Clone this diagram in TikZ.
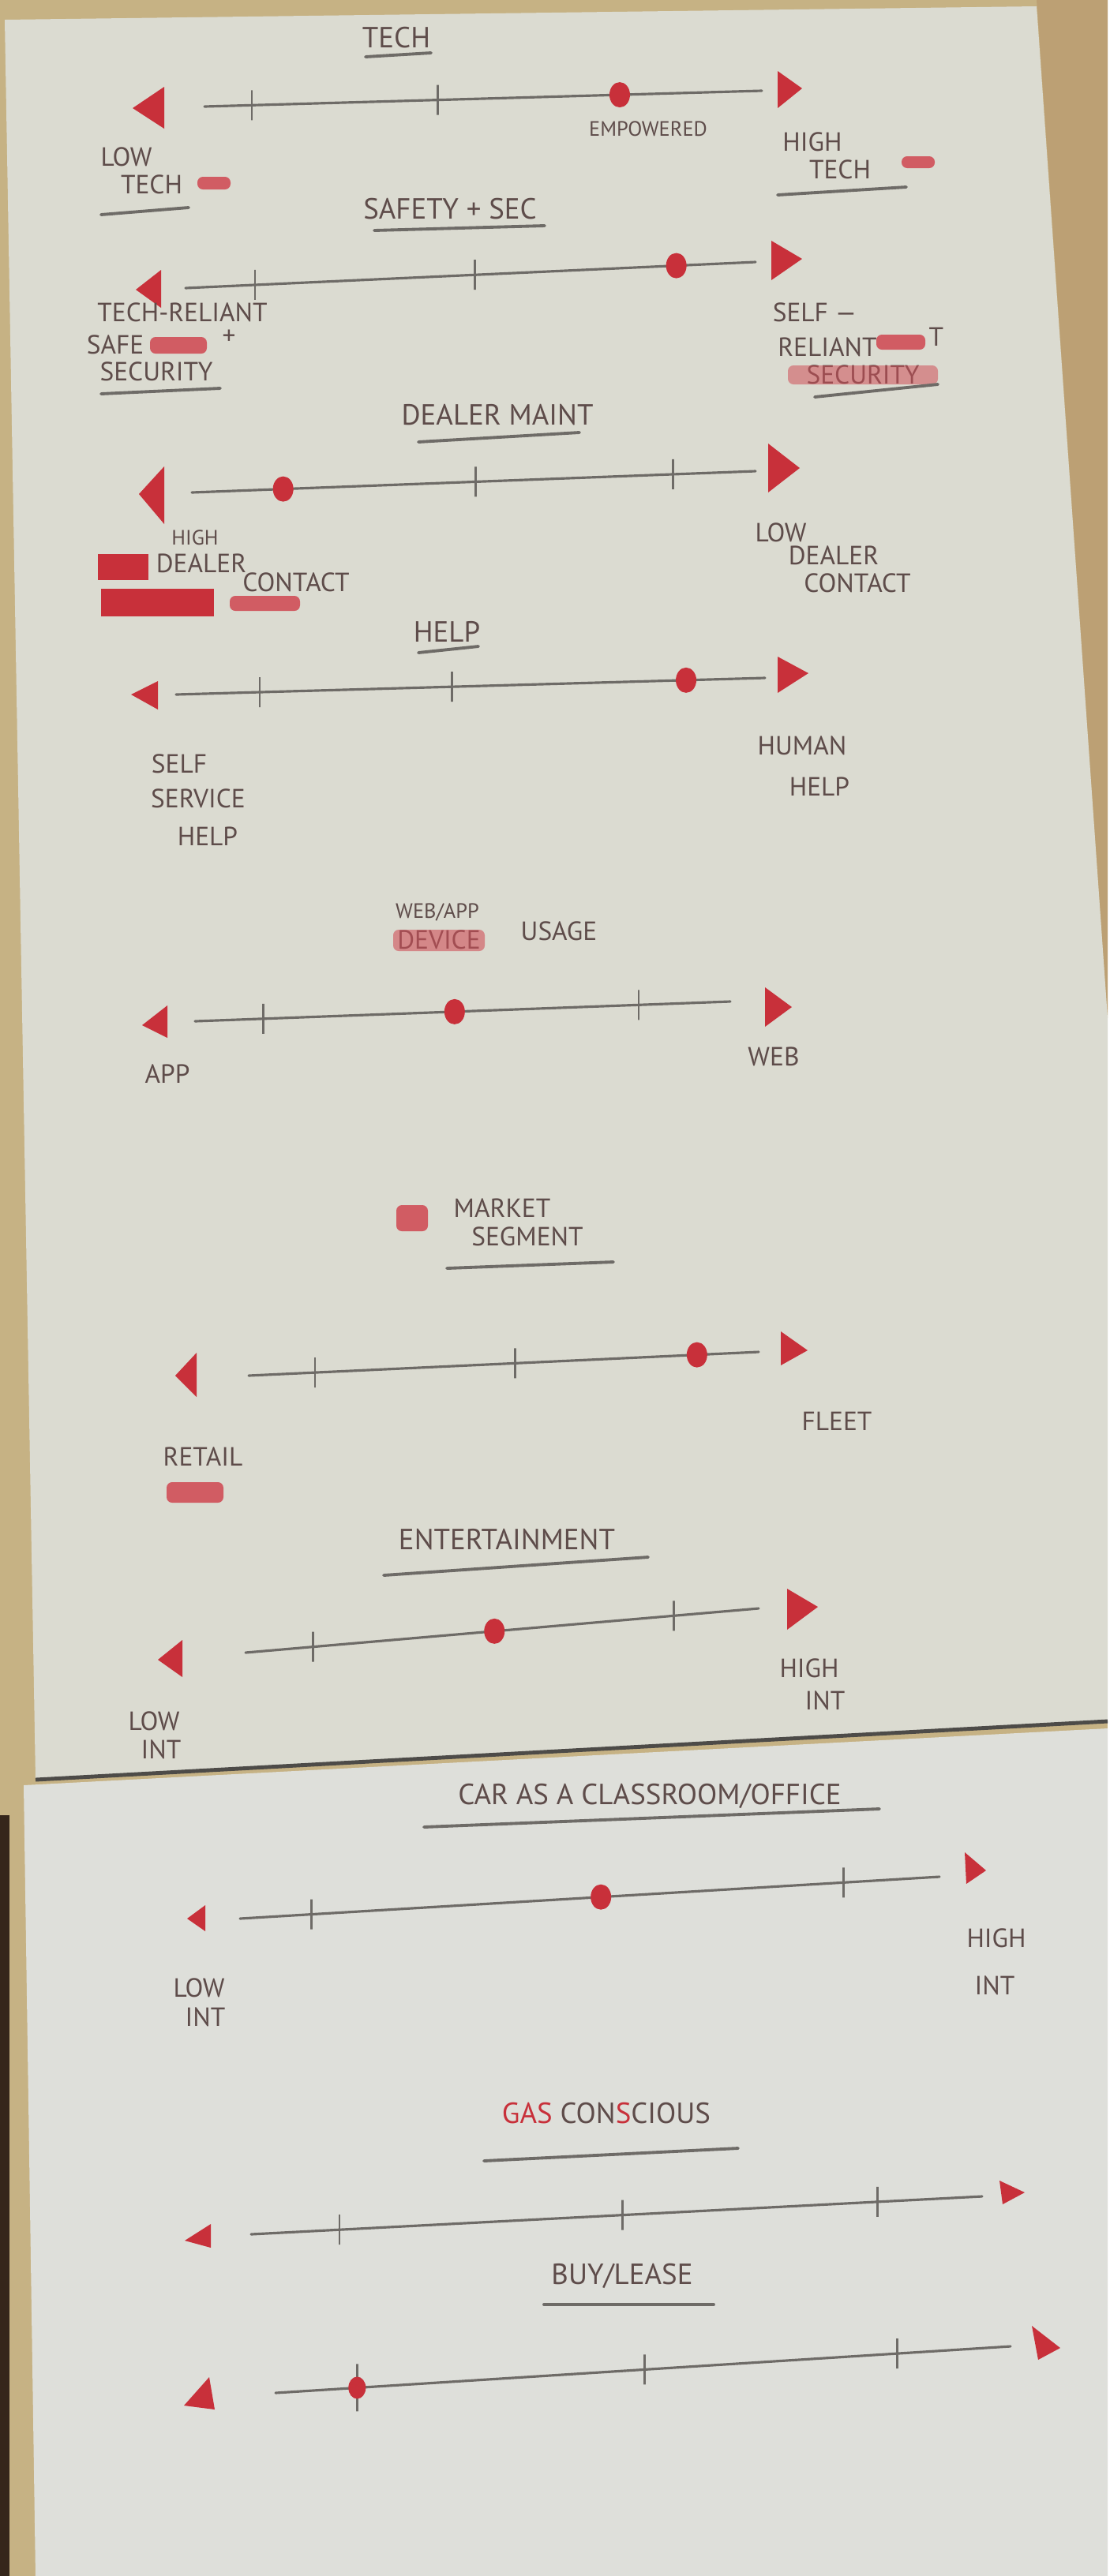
\documentclass[tikz,border=0pt]{standalone}
\usepackage{fontspec}
\setmainfont{PT Sans}
\usetikzlibrary{shapes.geometric}

\definecolor{paper}{HTML}{DBDBD1}
\definecolor{paperlow}{HTML}{DEDFDA}
\definecolor{wall}{HTML}{C6B284}
\definecolor{wallside}{HTML}{BCA074}
\definecolor{woodedge}{HTML}{35261B}
\definecolor{marker}{HTML}{C8303A}
\definecolor{inkc}{HTML}{5E4C4A}
\definecolor{pencilc}{HTML}{6E6B67}

\begin{document}
\begin{tikzpicture}[x=0.1mm,y=-0.1mm,
  lbl/.style={text=inkc, inner sep=0pt, font=\fontsize{9.5}{11}\selectfont},
  ttl/.style={lbl, font=\fontsize{10.5}{12}\selectfont},
  tiny/.style={lbl, font=\fontsize{7.5}{9}\selectfont},
  pencil/.style={draw=pencilc, line width=0.9pt, line cap=round},
  uline/.style={draw=pencilc, line width=1.1pt, line cap=round},
  tickmark/.style={draw=pencilc, line width=0.8pt, inner sep=0pt, minimum width=0pt, minimum height=#1},
  tickmark/.default=3.8mm,
  dot/.style={ellipse, fill=marker, inner sep=0pt, minimum width=2.6mm, minimum height=3.2mm},
  scribble/.style={fill=marker!85, opacity=0.9, rounded corners=2pt},
]
% wall and the two sheets
\fill[wall] (0,0) rectangle (1403,3264);
\fill[wallside] (1313,0) -- (1403,0) -- (1403,1290) -- cycle;
\fill[woodedge] (0,2300) rectangle (12,3264);
\fill[paper] (6,25) -- (1313,8) -- (1403,1290) -- (1403,2179) -- (45,2253) -- cycle;
\fill[paperlow] (30,2262) -- (1403,2190) -- (1403,3264) -- (45,3264) -- cycle;
\draw[pencilc!70!black, line width=1.4pt] (45,2255) -- (1403,2181);

% tech
\node[ttl] (tech-ttl) at (502,48) {TECH};
\draw[uline] (463,72) -- (546,67);
\coordinate (tech-l) at (259,135);
\coordinate (tech-r) at (965,115);
\fill[marker] (168,137) -- (208,110) -- (208,163) -- cycle;
\fill[marker] (985,90) -- (1016,112) -- (985,137) -- cycle;
\draw[pencil] (tech-l) -- (tech-r)
  node[tickmark,pos=.085] (tech-t1) {}
  node[tickmark,pos=.418] (tech-t2) {}
  node[dot,pos=.745] (tech-dot) {};
\node[tiny] (tech-dotlbl) at (821,163) {EMPOWERED};
\node[lbl] (tech-lo1) at (160,199) {LOW};
\node[lbl] (tech-lo2) at (192,234) {TECH};
\fill[scribble] (250,224) rectangle (292,240);
\draw[uline] (128,272) -- (239,263);
\node[lbl] (tech-hi1) at (1029,180) {HIGH};
\node[lbl] (tech-hi2) at (1064,215) {TECH};
\fill[scribble] (1142,198) rectangle (1184,213);
\draw[uline] (985,247) -- (1148,237);

% safety + sec
\node[ttl] (safe-ttl) at (570,265) {SAFETY + SEC};
\draw[uline] (474,292) -- (690,286);
\coordinate (safe-l) at (235,365);
\coordinate (safe-r) at (957,332);
\fill[marker] (172,367) -- (204,342) -- (204,390) -- cycle;
\fill[marker] (977,305) -- (1016,328) -- (977,355) -- cycle;
\draw[pencil] (safe-l) -- (safe-r)
  node[tickmark,pos=.122] (safe-t1) {}
  node[tickmark,pos=.508] (safe-t2) {}
  node[dot,pos=.861] (safe-dot) {};
\node[lbl] (safe-lo1) at (231,396) {TECH-RELIANT};
\node[lbl] (safe-lo2) at (146,437) {SAFE};
\fill[scribble] (190,427) rectangle (262,448);
\node[lbl] (safe-lo3) at (290,427) {+};
\node[lbl] (safe-lo4) at (198,471) {SECURITY};
\draw[uline] (128,499) -- (279,492);
\node[lbl] (safe-hi1) at (1032,396) {SELF —};
\node[lbl] (safe-hi2) at (1048,440) {RELIANT};
\fill[scribble] (1110,424) rectangle (1172,443);
\node[lbl] (safe-hi3) at (1186,427) {T};
\node[lbl] (safe-hi4) at (1093,475) {SECURITY};
\fill[scribble, opacity=.55] (998,463) rectangle (1188,487);
\draw[uline] (1032,503) -- (1188,487);

% dealer maint
\node[ttl] (dealer-ttl) at (630,526) {DEALER MAINT};
\draw[uline] (530,560) -- (734,548);
\coordinate (dealer-l) at (243,624);
\coordinate (dealer-r) at (957,597);
\fill[marker] (176,626) -- (208,591) -- (208,664) -- cycle;
\fill[marker] (973,562) -- (1013,593) -- (973,624) -- cycle;
\draw[pencil] (dealer-l) -- (dealer-r)
  node[dot,pos=.162] (dealer-dot) {}
  node[tickmark,pos=.503] (dealer-t1) {}
  node[tickmark,pos=.854] (dealer-t2) {};
\node[tiny] (dealer-lo1) at (247,681) {HIGH};
\fill[marker] (124,702) rectangle (188,735);
\node[lbl] (dealer-lo2) at (255,714) {DEALER};
\node[lbl] (dealer-lo3) at (375,738) {CONTACT};
\fill[marker] (128,746) rectangle (271,781);
\fill[scribble] (291,755) rectangle (380,774);
\node[lbl] (dealer-hi1) at (989,675) {LOW};
\node[lbl] (dealer-hi2) at (1056,704) {DEALER};
\node[lbl] (dealer-hi3) at (1086,739) {CONTACT};

% help
\node[ttl] (help-ttl) at (566,800) {HELP};
\draw[uline] (530,827) -- (606,819);
\coordinate (help-l) at (223,880);
\coordinate (help-r) at (969,859);
\fill[marker] (166,880) -- (200,863) -- (200,899) -- cycle;
\fill[marker] (985,832) -- (1024,853) -- (985,878) -- cycle;
\draw[pencil] (help-l) -- (help-r)
  node[tickmark,pos=.142] (help-t1) {}
  node[tickmark,pos=.469] (help-t2) {}
  node[dot,pos=.866] (help-dot) {};
\node[lbl] (help-lo1) at (227,968) {SELF};
\node[lbl] (help-lo2) at (251,1012) {SERVICE};
\node[lbl] (help-lo3) at (263,1060) {HELP};
\node[lbl] (help-hi1) at (1016,945) {HUMAN};
\node[lbl] (help-hi2) at (1038,997) {HELP};

% web/app usage
\node[tiny] (usage-ttl1) at (554,1156) {WEB/APP};
\node[lbl] (usage-ttl2) at (556,1191) {DEVICE};
\fill[scribble, opacity=.6] (498,1178) rectangle (614,1205);
\node[lbl] (usage-ttl3) at (708,1180) {USAGE};
\coordinate (usage-l) at (247,1294);
\coordinate (usage-r) at (925,1269);
\fill[marker] (180,1299) -- (212,1274) -- (212,1315) -- cycle;
\fill[marker] (969,1251) -- (1003,1276) -- (969,1301) -- cycle;
\draw[pencil] (usage-l) -- (usage-r)
  node[tickmark,pos=.127] (usage-t1) {}
  node[dot,pos=.485] (usage-dot) {}
  node[tickmark,pos=.829] (usage-t2) {};
\node[lbl] (usage-lo) at (212,1361) {APP};
\node[lbl] (usage-hi) at (980,1339) {WEB};

% market segment
\fill[scribble] (502,1527) rectangle (542,1560);
\node[lbl] (market-ttl1) at (636,1531) {MARKET};
\node[lbl] (market-ttl2) at (668,1567) {SEGMENT};
\draw[uline] (566,1607) -- (777,1599);
\coordinate (market-l) at (315,1743);
\coordinate (market-r) at (961,1713);
\fill[marker] (222,1743) -- (249,1714) -- (249,1770) -- cycle;
\fill[marker] (989,1687) -- (1023,1711) -- (989,1730) -- cycle;
\draw[pencil] (market-l) -- (market-r)
  node[tickmark,pos=.130] (market-t1) {}
  node[tickmark,pos=.522] (market-t2) {}
  node[dot,pos=.879] (market-dot) {};
\node[lbl] (market-lo) at (257,1846) {RETAIL};
\fill[scribble] (211,1878) rectangle (283,1904);
\node[lbl] (market-hi) at (1060,1801) {FLEET};

% entertainment
\node[ttl] (ent-ttl) at (642,1951) {ENTERTAINMENT};
\draw[uline] (486,1996) -- (821,1973);
\coordinate (ent-l) at (311,2094);
\coordinate (ent-r) at (961,2038);
\fill[marker] (200,2103) -- (231,2078) -- (231,2125) -- cycle;
\fill[marker] (997,2013) -- (1036,2036) -- (997,2065) -- cycle;
\draw[pencil] (ent-l) -- (ent-r)
  node[tickmark,pos=.131] (ent-t1) {}
  node[dot,pos=.485] (ent-dot) {}
  node[tickmark,pos=.834] (ent-t2) {};
\node[lbl] (ent-hi1) at (1025,2114) {HIGH};
\node[lbl] (ent-hi2) at (1045,2155) {INT};
\node[lbl] (ent-lo1) at (195,2181) {LOW};
\node[lbl] (ent-lo2) at (204,2217) {INT};

% car as a classroom
\node[ttl] (car-ttl) at (823,2276) {CAR AS A CLASSROOM/OFFICE};
\draw[uline] (537,2315) -- (1114,2292);
\coordinate (car-l) at (304,2431);
\coordinate (car-r) at (1190,2378);
\fill[marker] (237,2431) -- (260,2414) -- (260,2447) -- cycle;
\fill[marker] (1222,2347) -- (1249,2370) -- (1224,2387) -- cycle;
\draw[pencil] (car-l) -- (car-r)
  node[tickmark,pos=.102] (car-t1) {}
  node[dot,pos=.516] (car-dot) {}
  node[tickmark,pos=.863] (car-t2) {};
\node[lbl] (car-lo1) at (252,2519) {LOW};
\node[lbl] (car-lo2) at (260,2556) {INT};
\node[lbl] (car-hi1) at (1262,2456) {HIGH};
\node[lbl] (car-hi2) at (1260,2516) {INT};

% gas conscious
\node[ttl] (gas-ttl) at (768,2678) {\textcolor{marker}{GAS} CON\textcolor{marker}{S}CIOUS};
\draw[uline] (613,2738) -- (935,2722);
\coordinate (gas-l) at (318,2831);
\coordinate (gas-r) at (1244,2783);
\fill[marker] (234,2839) -- (267,2818) -- (267,2848) -- cycle;
\fill[marker] (1266,2763) -- (1298,2778) -- (1270,2793) -- cycle;
\draw[pencil] (gas-l) -- (gas-r)
  node[tickmark,pos=.121] (gas-t1) {}
  node[tickmark,pos=.508] (gas-t2) {}
  node[tickmark,pos=.857] (gas-t3) {};

% buy/lease
\node[ttl] (buy-ttl) at (788,2884) {BUY/LEASE};
\draw[uline] (689,2920) -- (904,2920);
\coordinate (buy-l) at (349,3032);
\coordinate (buy-r) at (1280,2973);
\fill[marker] (233,3048) -- (265,3012) -- (272,3053) -- cycle;
\fill[marker] (1307,2947) -- (1343,2975) -- (1315,2990) -- cycle;
\draw[pencil] (buy-l) -- (buy-r)
  node[tickmark=6mm,pos=.111] (buy-t1) {}
  node[dot,minimum width=2.2mm,minimum height=2.8mm,pos=.111] (buy-dot) {}
  node[tickmark,pos=.502] (buy-t2) {}
  node[tickmark,pos=.846] (buy-t3) {};
\end{tikzpicture}
\end{document}
